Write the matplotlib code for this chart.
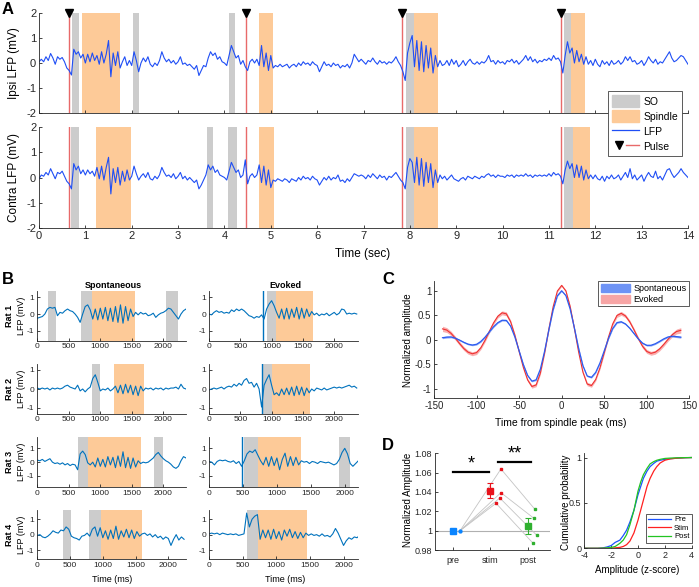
"""
Spindle / slow-oscillation figure: LFP examples, per-rat traces,
average spindle and amplitude comparison.
"""
import matplotlib
matplotlib.use('Agg')
import matplotlib.pyplot as plt
from matplotlib.patches import Patch
from matplotlib.lines import Line2D
from matplotlib.legend_handler import HandlerTuple
import numpy as np

plt.rcParams['font.family'] = ['Liberation Sans', 'DejaVu Sans']
plt.rcParams['axes.unicode_minus'] = False
plt.rcParams['axes.linewidth'] = 0.6
plt.rcParams['axes.edgecolor'] = '#262626'
plt.rcParams['xtick.color'] = '#262626'
plt.rcParams['ytick.color'] = '#262626'

W, H = 699, 587

# ---------------- data ----------------
# A: example LFP (mV), one sample every 0.05 s
ipsi_lfp = [0.05, 0.15, 0.05, 0.25, 0.10, 0.38, 0.20, -0.05, 0.25, 0.15, 0.22, 0.05, -0.20, -0.30, -0.48, 0.55, 0.35, 0.45, 0.20, 0.35,
            0.00, 0.35, 0.05, 0.40, 0.10, 0.30, -0.05, 0.45, 0.00, 0.35, 0.90, -0.55, 0.40, -0.10, 0.45, -0.20, 0.05, 0.25, -0.10, 0.10,
            -0.10, 0.45, 0.10, -0.35, 0.00, 0.20, 0.05, 0.25, -0.05, -0.15, 0.00, -0.10, 0.10, 0.45, 0.20, 0.05, 0.15, 0.00, 0.10, -0.05,
            0.05, 0.25, -0.05, 0.00, -0.10, -0.05, -0.15, -0.25, -0.10, -0.50, -0.30, -0.10, -0.15, 0.20, 0.45, 0.30, 0.40, 0.15, 0.25, 0.05,
            0.00, -0.10, 0.30, 0.70, 0.45, 0.20, 0.30, -0.05, 0.10, -0.15, -0.30, 0.05, 0.15, 0.00, 0.15, -0.10, 0.70, -0.15, 0.40, -0.30,
            0.30, -0.20, -0.10, -0.15, -0.05, -0.15, -0.10, -0.05, -0.20, -0.10, -0.05, -0.15, 0.00, -0.10, 0.05, -0.05, 0.00, -0.10, 0.05, -0.05,
            -0.10, -0.35, -0.15, 0.05, -0.10, -0.05, -0.15, 0.00, -0.10, -0.05, -0.20, -0.10, -0.15, -0.05, -0.20, 0.00, 0.35, 0.20, 0.05, 0.15,
            0.05, -0.05, 0.10, 0.05, 0.20, 0.05, -0.05, 0.10, 0.00, 0.05, -0.05, 0.05, 0.00, 0.10, 0.25, 0.05, -0.10, -0.35, -0.70, 0.40,
            0.80, 1.10, -0.15, 0.90, -0.30, 0.85, -0.35, 0.70, -0.20, 0.60, -0.40, 0.30, -0.15, 0.10, -0.10, -0.05, 0.10, -0.10, 0.15, -0.05,
            0.10, -0.15, -0.05, 0.10, -0.10, 0.05, 0.15, 0.00, -0.05, 0.05, -0.05, 0.05, 0.00, 0.10, 0.30, 0.05, 0.10, -0.05, 0.10, 0.00,
            0.05, -0.05, 0.10, 0.05, 0.15, 0.00, 0.10, -0.05, 0.05, 0.15, 0.30, 0.10, 0.25, 0.05, 0.15, 0.00, 0.10, 0.05, 0.15, 0.10,
            0.20, 0.10, 0.30, 0.15, 0.20, 0.05, -0.40, 0.30, 0.85, 0.40, 0.60, 0.00, 0.50, 0.05, 0.35, -0.05, 0.25, -0.05, 0.10, -0.10,
            0.15, -0.05, -0.15, 0.10, -0.05, 0.05, -0.10, 0.10, -0.05, 0.00, 0.10, -0.05, 0.05, 0.25, 0.10, 0.25, 0.05, 0.10, -0.05, 0.00,
            0.10, -0.10, 0.05, 0.25, 0.10, 0.00, 0.15, -0.05, 0.05, 0.00, 0.15, 0.30, 0.45, 0.20, 0.05, 0.10, 0.20, 0.30, 0.25, 0.10, -0.05]
contra_lfp = [-0.05, 0.10, 0.05, 0.20, 0.10, 0.35, 0.15, -0.05, 0.20, 0.15, 0.25, 0.05, -0.15, -0.25, -0.45, 0.55, 0.30, 0.45, 0.15, 0.30,
              0.10, 0.30, 0.15, 0.25, 0.05, 0.40, -0.05, 0.45, -0.10, 0.40, 0.80, -0.65, 0.35, -0.20, 0.40, -0.30, 0.25, -0.15, 0.30, -0.10,
              0.05, 0.45, 0.15, -0.10, 0.05, 0.15, 0.00, 0.20, -0.05, -0.10, 0.05, -0.05, 0.10, 0.40, 0.20, 0.05, 0.10, 0.00, 0.15, -0.05,
              0.05, 0.20, -0.05, 0.05, -0.10, 0.00, -0.10, -0.20, -0.10, -0.45, -0.30, -0.10, 0.10, 0.50, 0.30, 0.45, 0.20, 0.30, 0.10, 0.05,
              0.00, -0.10, 0.25, 0.60, 0.40, 0.20, 0.30, 0.00, 0.10, 0.70, -0.25, 0.05, 0.15, 0.00, 0.10, 0.50, -0.20, 0.45, -0.30, 0.30,
              -0.40, -0.10, -0.15, -0.05, -0.10, -0.15, -0.05, -0.10, -0.20, -0.05, -0.10, -0.15, 0.00, -0.10, 0.05, -0.05, 0.00, -0.10, 0.05, -0.05,
              -0.10, -0.30, -0.15, 0.00, -0.10, 0.05, -0.10, 0.00, -0.05, 0.10, -0.15, -0.10, -0.20, -0.05, -0.15, 0.00, 0.15, 0.10, 0.05, 0.10,
              0.05, -0.05, 0.10, 0.00, 0.15, 0.05, -0.05, 0.10, 0.00, 0.05, -0.10, 0.05, 0.00, 0.10, 0.20, 0.05, -0.10, -0.20, -0.45, 0.40,
              0.75, 0.60, -0.20, 0.80, -0.30, 0.75, -0.35, 0.60, -0.20, 0.55, -0.40, 0.30, -0.20, 0.10, -0.05, 0.05, -0.10, 0.00, 0.10, -0.05,
              -0.10, -0.15, -0.05, 0.00, -0.10, 0.05, 0.00, -0.05, 0.05, 0.00, -0.05, 0.05, 0.00, 0.10, 0.15, 0.05, 0.10, 0.00, 0.10, 0.05,
              0.05, 0.00, 0.10, 0.05, 0.10, 0.00, 0.10, 0.05, 0.10, 0.05, 0.15, 0.05, 0.10, 0.00, 0.10, 0.05, 0.10, 0.05, 0.10, 0.05,
              0.15, 0.05, 0.20, 0.10, 0.15, 0.05, -0.25, 0.30, 0.65, 0.35, 0.55, 0.00, 0.50, 0.00, 0.45, -0.10, 0.30, -0.05, 0.10, -0.05,
              0.10, -0.05, -0.10, 0.05, -0.15, 0.05, -0.05, 0.10, -0.05, 0.00, 0.10, -0.10, 0.05, 0.20, 0.00, 0.35, -0.05, 0.10, -0.10, 0.00,
              0.10, -0.15, 0.05, 0.20, 0.05, 0.00, 0.25, -0.05, 0.05, -0.10, 0.10, 0.30, 0.35, 0.15, 0.00, 0.10, 0.20, 0.35, 0.20, 0.10, 0.00]
a_time = np.arange(len(ipsi_lfp)) * 0.05

pulse_times = [0.64, 4.46, 7.84, 11.25]
ipsi_so = [(0.705, 0.855), (2.03, 2.16), (4.09, 4.23), (7.91, 8.08), (11.32, 11.47)]
ipsi_spindle = [(0.93, 1.75), (4.75, 5.05), (8.08, 8.60), (11.47, 11.78)]
contra_so = [(0.69, 0.855), (3.62, 3.76), (4.08, 4.27), (7.91, 8.08), (11.32, 11.53)]
contra_spindle = [(1.23, 1.98), (4.74, 5.06), (8.08, 8.60), (11.53, 11.88)]

# B: per-rat traces (mV), one sample every 40 ms
rat1_spont = [-0.25, -0.2, -0.15, 0.0, 0.3, 0.4, 0.35, 0.4, -0.1, 0.1, 0.05, 0.2, 0.3, 0.2, 0.15, 0.0, -0.2, -0.5,
              0.0, 0.45, 0.55, 0.25, -0.3, 0.3, -0.35, 0.35, -0.3, 0.4, -0.4, 0.35, -0.45, 0.45, -0.5, 0.55, -0.55,
              0.45, -0.4, 0.3, -0.15, 0.1, -0.05, 0.1, 0.0, 0.05, -0.1, -0.05, 0.05, -0.2, -0.05, 0.05, 0.1, 0.2,
              0.35, 0.3, 0.1, -0.1, -0.3, 0.0, 0.2, 0.3]
rat2_spont = [0.05, 0.0, 0.05, 0.0, 0.05, -0.05, 0.05, 0.0, 0.05, 0.0, 0.05, 0.15, 0.2, 0.1, 0.05, 0.0, 0.2, -0.1,
              0.0, -0.15, 0.0, 0.1, 0.55, 0.75, 0.35, -0.1, 0.0, -0.05, 0.05, -0.1, 0.0, 0.15, -0.2, 0.2, -0.25,
              0.25, -0.2, 0.2, -0.3, 0.15, -0.35, 0.15, -0.1, 0.05, 0.0, 0.05, -0.05, 0.05, 0.0, 0.05, -0.05, 0.05,
              0.0, 0.05, 0.05, 0.1, 0.0, 0.25, 0.05, 0.0]
rat3_spont = [0.15, 0.1, 0.2, 0.05, 0.15, 0.25, 0.0, -0.1, -0.05, -0.15, -0.05, -0.2, -0.1, -0.25, -0.15, -0.2,
              -0.55, 0.6, 0.8, 0.55, -0.05, -0.2, 0.0, -0.35, 0.3, -0.3, 0.2, -0.35, 0.4, -0.2, 0.35, -0.4, 0.45,
              -0.3, 0.75, -0.4, 0.35, -0.45, 0.3, -0.35, 0.1, -0.1, 0.0, -0.05, 0.0, 0.15, 0.3, 0.55, 0.7, 0.45,
              0.25, 0.1, 0.0, -0.15, -0.35, -0.45, -0.3, 0.1, 0.4, 0.3]
rat4_spont = [-0.05, 0.0, -0.15, -0.2, -0.1, 0.05, 0.25, 0.15, 0.1, 0.3, 0.25, 0.5, 0.35, -0.1, -0.2, -0.25,
              -0.35, -0.1, -0.05, 0.1, -0.1, 0.35, 0.5, -0.1, 0.45, -0.2, 0.25, -0.3, 0.3, -0.25, 0.55, -0.3, 0.25,
              -0.15, 0.35, -0.2, 0.3, -0.25, 0.2, -0.1, 0.05, 0.1, -0.05, 0.05, -0.15, 0.0, -0.2, -0.1, -0.3,
              -0.15, -0.25, -0.7, -0.3, 0.0, -0.35, -0.15, -0.3]
rat1_evoked = [0.0, -0.05, 0.1, 0.2, 0.1, 0.15, 0.05, 0.1, 0.05, 0.25, 0.15, 0.3, 0.2, 0.3, 0.2, 0.05, -0.1,
               -0.15, -0.25, -0.15, -0.2, -0.05, -0.3, 0.3, 0.6, 0.8, 0.5, 0.1, -0.25, 0.3, -0.3, 0.35, -0.3, 0.3,
               -0.2, 0.4, -0.3, 0.35, -0.25, 0.3, -0.15, 0.15, -0.05, 0.05, -0.1, 0.0, -0.05, 0.05, -0.1, 0.0, 0.1,
               -0.05, 0.05, 0.3, 0.25, 0.0, 0.05, 0.0, 0.05, 0.0]
rat2_evoked = [-0.05, 0.0, 0.05, 0.0, 0.05, 0.1, 0.0, 0.1, 0.15, 0.1, 0.25, 0.15, 0.3, 0.2, 0.45, 0.55, 0.3,
               0.35, 0.1, 0.3, 0.0, -0.95, 0.2, 0.5, 0.75, 0.2, -0.3, -0.2, -0.35, 0.0, -0.3, 0.05, -0.3, 0.1,
               -0.35, 0.15, -0.3, 0.1, -0.35, 0.05, -0.2, 0.0, -0.1, 0.05, 0.0, -0.05, 0.05, -0.05, 0.0, 0.05, 0.1,
               0.05, 0.1, 0.05, 0.1, 0.15, 0.2, 0.1, 0.15, 0.05]
rat3_evoked = [0.05, 0.0, -0.2, 0.05, 0.15, 0.1, 0.15, 0.05, 0.0, 0.1, -0.1, 0.05, -0.3, 0.1, 0.6, 0.8, 0.7,
               0.9, 0.5, 0.1, -0.2, 0.35, -0.3, 0.4, -0.25, 0.3, -0.55, 0.2, 0.65, -0.3, 0.4, -0.25, 0.35, -0.2,
               0.1, 0.0, 0.05, -0.1, 0.05, 0.0, -0.1, 0.05, 0.0, -0.05, 0.0, -0.1, -0.2, -0.1, 0.2, 0.7, 1.0, 0.6,
               -0.1, -0.3, -0.1, 0.1]
rat4_evoked = [0.05, 0.1, 0.05, 0.1, 0.0, 0.1, 0.05, 0.0, 0.05, 0.0, 0.05, -0.05, 0.0, 0.05, 1.4, 0.5, 1.0,
               1.2, 1.3, -0.3, 0.3, -0.2, 0.3, -0.3, 0.35, -0.25, 0.2, -0.35, 0.3, -0.1, 0.35, -0.2, 0.2, -0.25,
               0.15, -0.2, 0.1, -0.05, 0.05, -0.05, 0.0, -0.1, 0.05, -0.1, -0.05, -0.15, 0.05, 0.4, 0.1, -0.3,
               -0.7, -0.4, -0.2, -0.3, -0.15, -0.2, -0.05]

rat_names = ['Rat 1', 'Rat 2', 'Rat 3', 'Rat 4']
rat_ylim = [(-1.6, 1.4), (-1.3, 1.3), (-1.8, 1.8), (-1.6, 1.6)]
spont_xmax = [2355, 2355, 2355, 2265]
evoked_xmax = [2380, 2380, 2195, 2215]
spont_so = [[(164, 297), (699, 873), (2043, 2240)], [(863, 995)], [(651, 800), (1852, 2000)], [(396, 513), (782, 975)]]
spont_spindle = [(873, 1551), (1222, 1694), (800, 1646), (975, 1600)]
evoked_so = [[(921, 1065)], [(857, 1006)], [(522, 725), (1918, 2082)], [(570, 723)]]
evoked_spindle = [(1065, 1656), (1006, 1613), (725, 1358), (723, 1450)]
evoked_pulse = [863, 843, 493, None]

# C: average spindle (normalized), every 5 ms from -140 to 140
c_time = np.arange(-140, 141, 5)
spont_avg = [0.04, 0.052, 0.055, 0.031, -0.009, -0.054, -0.092, -0.11, -0.095, -0.038, 0.051, 0.159, 0.264, 0.348,
             0.397, 0.394, 0.277, 0.055, -0.228, -0.51, -0.732, -0.849, -0.822, -0.603, -0.234, 0.202, 0.609, 0.897,
             1.0, 0.901, 0.626, 0.236, -0.181, -0.534, -0.744, -0.771, -0.67, -0.478, -0.231, 0.021, 0.228, 0.349,
             0.366, 0.321, 0.234, 0.125, 0.016, -0.071, -0.116, -0.115, -0.084, -0.036, 0.016, 0.055, 0.07, 0.062, 0.05]
evoked_avg = [0.22, 0.196, 0.129, 0.031, -0.079, -0.181, -0.256, -0.289, -0.265, -0.166, -0.012, 0.169, 0.344,
              0.479, 0.549, 0.528, 0.367, 0.092, -0.242, -0.569, -0.824, -0.958, -0.927, -0.683, -0.27, 0.218, 0.673,
              0.995, 1.11, 0.996, 0.677, 0.226, -0.257, -0.666, -0.908, -0.939, -0.815, -0.578, -0.27, 0.05, 0.322,
              0.495, 0.538, 0.485, 0.365, 0.201, 0.024, -0.134, -0.241, -0.28, -0.257, -0.191, -0.097, 0.007, 0.101,
              0.167, 0.19]
spont_sem = [0.02, 0.02, 0.018, 0.016, 0.015, 0.015, 0.015, 0.015, 0.015, 0.015, 0.015, 0.015, 0.015, 0.015,
             0.016, 0.016, 0.015, 0.015, 0.015, 0.015, 0.015, 0.016, 0.016, 0.015, 0.012, 0.012, 0.012, 0.012,
             0.012, 0.012, 0.012, 0.012, 0.012, 0.015, 0.016, 0.016, 0.015, 0.015, 0.015, 0.015, 0.015, 0.016,
             0.016, 0.015, 0.015, 0.015, 0.015, 0.015, 0.016, 0.016, 0.015, 0.015, 0.015, 0.016, 0.018, 0.02, 0.02]
evoked_sem = [0.055, 0.05, 0.045, 0.04, 0.04, 0.04, 0.04, 0.04, 0.04, 0.035, 0.035, 0.035, 0.035, 0.035, 0.04,
              0.04, 0.035, 0.03, 0.03, 0.03, 0.03, 0.035, 0.035, 0.03, 0.02, 0.02, 0.02, 0.02, 0.02, 0.02, 0.02, 0.02,
              0.02, 0.03, 0.035, 0.035, 0.03, 0.03, 0.03, 0.03, 0.035, 0.04, 0.04, 0.035, 0.035, 0.035, 0.035, 0.04,
              0.04, 0.04, 0.04, 0.04, 0.04, 0.04, 0.045, 0.05, 0.055]

# D: normalized spindle amplitude per rat and group mean
groups = ['pre', 'stim', 'post']
group_mean = [1.0, 1.0414, 1.0048]
group_err = [0.0, 0.0081, 0.0079]
pre_rat_x = [1.2, 1.2, 1.2, 1.2]
pre_rat = [1.0, 1.0, 1.0, 1.0]
stim_rat_x = [2.29, 2.29, 2.26, 2.16]
stim_rat = [1.0638, 1.0393, 1.0338, 1.0283]
post_rat_x = [3.19, 3.17, 3.24, 3.15]
post_rat = [1.0224, 1.0128, 0.9955, 0.9869]

cdf_z = [-4, -3, -2.6, -2.3, -2.0, -1.7, -1.35, -1.1, -0.85, -0.6, -0.3, 0, 0.2, 0.4, 0.67, 0.9, 1.17, 1.4,
         1.65, 2.0, 2.4, 2.9, 3.5, 4.0]
pre_cdf = [0, 0, 0.005, 0.015, 0.03, 0.065, 0.09, 0.14, 0.2, 0.29, 0.42, 0.59, 0.68, 0.77, 0.85, 0.9, 0.935,
           0.96, 0.97, 0.98, 0.987, 0.993, 0.998, 1.0]
stim_cdf = [0, 0, 0, 0.001, 0.002, 0.005, 0.01, 0.02, 0.04, 0.08, 0.17, 0.31, 0.42, 0.53, 0.68, 0.77, 0.85,
            0.9, 0.94, 0.97, 0.985, 0.993, 0.998, 1.0]
post_cdf = [0, 0, 0.002, 0.005, 0.01, 0.02, 0.055, 0.09, 0.15, 0.26, 0.42, 0.63, 0.73, 0.81, 0.88, 0.93, 0.955,
            0.97, 0.98, 0.99, 0.994, 0.997, 0.999, 1.0]

# ---------------- styling ----------------
lfp_blue = '#1f4ef5'
trace_blue = '#0072bd'
so_gray = '#cccccc'
spindle_orange = '#fdca98'
pulse_red = '#e86a6a'


def box(x0, y0, x1, y1):
    # pixel box (left, top, right, bottom) -> figure rect
    return [x0 / W, 1 - y1 / H, (x1 - x0) / W, (y1 - y0) / H]


def ftext(x, y, s, **kw):
    kw.setdefault('ha', 'center')
    kw.setdefault('va', 'center')
    fig.text(x / W, 1 - y / H, s, **kw)


def style(ax, size):
    for s in ['top', 'right']:
        ax.spines[s].set_visible(False)
    ax.tick_params(direction='in', length=2.5, width=0.6, labelsize=size, pad=2)


fig = plt.figure(figsize=(W / 100, H / 100), dpi=100)

# ---------------- A ----------------
axA1 = fig.add_axes(box(39, 13, 688, 113))
axA2 = fig.add_axes(box(39, 127, 688, 228))
for ax, lfp, so, sp in [(axA1, ipsi_lfp, ipsi_so, ipsi_spindle), (axA2, contra_lfp, contra_so, contra_spindle)]:
    for a, b in so:
        ax.axvspan(a, b, color=so_gray, lw=0)
    for a, b in sp:
        ax.axvspan(a, b, color=spindle_orange, lw=0)
    for p in pulse_times:
        ax.axvline(p, color=pulse_red, lw=1.0)
    ax.plot(a_time, lfp, color=lfp_blue, lw=0.8)
    ax.set_xlim(0, 14)
    ax.set_ylim(-2, 2)
    ax.set_xticks(range(0, 15))
    ax.set_yticks([-2, -1, 0, 1, 2])
    style(ax, 8)
axA1.set_xticklabels([])
axA1.plot(pulse_times, [2] * len(pulse_times), 'v', color='black', ms=6, clip_on=False, zorder=5)

ftext(14, 63, 'Ipsi LFP (mV)', rotation=90, fontsize=8.5)
ftext(14, 177, 'Contra LFP (mV)', rotation=90, fontsize=8.5)
ftext(363, 254, 'Time (sec)', fontsize=8.5)

pulse_marker = Line2D([], [], marker='v', color='black', ls='none', ms=6)
pulse_line = Line2D([], [], color=pulse_red, lw=1.0)
leg_handles = [Patch(color=so_gray), Patch(color=spindle_orange), Line2D([], [], color=lfp_blue, lw=0.9),
               (pulse_marker, pulse_line)]
fig.legend(leg_handles, ['SO', 'Spindle', 'LFP', 'Pulse'], loc='upper right',
           bbox_to_anchor=(687.5 / W, 1 - 86 / H), fontsize=7.5, fancybox=False, edgecolor='#404040',
           framealpha=1, handlelength=2.6, handleheight=1.3, borderpad=0.4, labelspacing=0.35,
           handletextpad=0.4, handler_map={tuple: HandlerTuple(ndivide=2, pad=0)}).get_frame().set_linewidth(0.6)

# ---------------- B ----------------
row_px = [(290.7, 340.7), (364.3, 413.7), (437.3, 487.0), (510.0, 559.3)]
spont_traces = [rat1_spont, rat2_spont, rat3_spont, rat4_spont]
evoked_traces = [rat1_evoked, rat2_evoked, rat3_evoked, rat4_evoked]
for i in range(4):
    y0, y1 = row_px[i]
    for col, (x0, x1) in enumerate([(37.3, 185.7), (209.0, 358.0)]):
        ax = fig.add_axes(box(x0, y0, x1, y1))
        if col == 0:
            trace, so, sp, xmax, pulse = spont_traces[i], spont_so[i], spont_spindle[i], spont_xmax[i], None
        else:
            trace, so, sp, xmax, pulse = evoked_traces[i], evoked_so[i], evoked_spindle[i], evoked_xmax[i], evoked_pulse[i]
        for a, b in so:
            ax.axvspan(a, b, color=so_gray, lw=0)
        ax.axvspan(sp[0], sp[1], color=spindle_orange, lw=0)
        if pulse is not None:
            ax.axvline(pulse, color=trace_blue, lw=1.0)
        ax.plot(np.arange(len(trace)) * 40, trace, color=trace_blue, lw=0.8)
        ax.set_xlim(0, xmax)
        ax.set_ylim(*rat_ylim[i])
        ax.set_xticks([0, 500, 1000, 1500, 2000])
        ax.set_yticks([-1, 0, 1])
        style(ax, 6)
    yc = (y0 + y1) / 2
    ftext(10, yc, rat_names[i], rotation=90, fontsize=6.5, fontweight='bold')
    ftext(22, yc, 'LFP (mV)', rotation=90, fontsize=6.5)

ftext(113, 286, 'Spontaneous', fontsize=6.5, fontweight='bold')
ftext(285, 286, 'Evoked', fontsize=6.5, fontweight='bold')
ftext(112, 580, 'Time (ms)', fontsize=6.5)
ftext(285, 580, 'Time (ms)', fontsize=6.5)

# ---------------- C ----------------
axC = fig.add_axes(box(434, 281, 689.3, 398.3))
ev = np.array(evoked_avg)
es = np.array(evoked_sem)
sa = np.array(spont_avg)
ss = np.array(spont_sem)
axC.fill_between(c_time, ev - es, ev + es, color='#f9b0b0', lw=0)
axC.plot(c_time, ev, color='#f03030', lw=0.8)
axC.fill_between(c_time, sa - ss, sa + ss, color='#8faaf7', lw=0)
axC.plot(c_time, sa, color='#2d5cf0', lw=0.9)
axC.set_xlim(-150, 150)
axC.set_ylim(-1.2, 1.2)
axC.set_xticks([-150, -100, -50, 0, 50, 100, 150])
axC.set_yticks([-1, -0.5, 0, 0.5, 1])
axC.set_yticklabels(['-1', '-0.5', '0', '0.5', '1'])
style(axC, 7)
axC.legend([Patch(color='#6e93f5'), Patch(color='#f7a5a5')], ['Spontaneous', 'Evoked'], loc='upper right',
           bbox_to_anchor=(1.0, 1.0), fontsize=6.5, fancybox=False, edgecolor='#404040', framealpha=1,
           handlelength=3.2, handleheight=1.0, borderpad=0.3, labelspacing=0.2, handletextpad=0.4,
           borderaxespad=0).get_frame().set_linewidth(0.6)
ftext(408, 340, 'Normalized amplitude', rotation=90, fontsize=7)
ftext(561, 423, 'Time from spindle peak (ms)', fontsize=7.5)

# ---------------- D ----------------
axD = fig.add_axes(box(435, 453.3, 550, 550))
axD.axhline(1.0, color='#b0b0b0', lw=0.8, zorder=1)
for k in range(len(stim_rat)):
    axD.plot([pre_rat_x[k], stim_rat_x[k], post_rat_x[k]], [pre_rat[k], stim_rat[k], post_rat[k]],
             color='#c4c4c4', lw=0.6, zorder=2)
group_colors = ['#0a84ff', '#e8121a', '#30b030']
for x_pts, y_pts, c in [(pre_rat_x, pre_rat, group_colors[0]), (stim_rat_x, stim_rat, group_colors[1]),
                        (post_rat_x, post_rat, group_colors[2])]:
    axD.plot(x_pts, y_pts, 's', color=c, ms=2, zorder=3)
for k in range(3):
    axD.errorbar(k + 1, group_mean[k], yerr=group_err[k], fmt='s', color=group_colors[k], ms=4,
                 capsize=2, elinewidth=0.8, capthick=0.8, zorder=4)
axD.plot([1.0, 1.98], [1.061, 1.061], color='black', lw=1.6)
axD.plot([2.2, 3.09], [1.0714, 1.0714], color='black', lw=1.6)
axD.text(1.5, 1.0600, '*', ha='center', va='bottom', fontsize=13)
axD.text(2.65, 1.0703, '**', ha='center', va='bottom', fontsize=13)
axD.set_xlim(0.53, 3.6)
axD.set_ylim(0.98, 1.08)
axD.set_xticks([1, 2, 3])
axD.set_xticklabels(groups)
axD.set_yticks([0.98, 1.0, 1.02, 1.04, 1.06, 1.08])
axD.set_yticklabels(['0.98', '1', '1.02', '1.04', '1.06', '1.08'])
style(axD, 6.5)
axD.tick_params(axis='x', pad=4)
ftext(408, 500, 'Normalized Amplitude', rotation=90, fontsize=7)

axE = fig.add_axes(box(584.3, 453, 691.7, 548.3))
axE.plot(cdf_z, pre_cdf, color='#1a53ff', lw=0.9, label='Pre')
axE.plot(cdf_z, stim_cdf, color='#ff2020', lw=0.9, label='Stim')
axE.plot(cdf_z, post_cdf, color='#22c422', lw=0.9, label='Post')
axE.set_xlim(-4, 4)
axE.set_ylim(0, 1.05)
axE.set_xticks([-4, -2, 0, 2, 4])
axE.set_yticks([0, 0.5, 1])
axE.set_yticklabels(['0', '0.5', '1'])
style(axE, 6.5)
axE.legend(loc='lower right', bbox_to_anchor=(1.0, 0.06), fontsize=5.5, fancybox=False, edgecolor='#404040',
           framealpha=1, handlelength=3.0, borderpad=0.3, labelspacing=0.15, handletextpad=0.4,
           borderaxespad=0).get_frame().set_linewidth(0.6)
ftext(566, 502, 'Cumulative probability', rotation=90, fontsize=7)
ftext(637, 570, 'Amplitude (z-score)', fontsize=7)

# panel letters
for letter, (x, y) in zip('ABCD', [(8, 10), (8, 279), (388, 280), (388, 446)]):
    ftext(x, y, letter, fontsize=12, fontweight='bold')

fig.savefig('out.png', dpi=100)
